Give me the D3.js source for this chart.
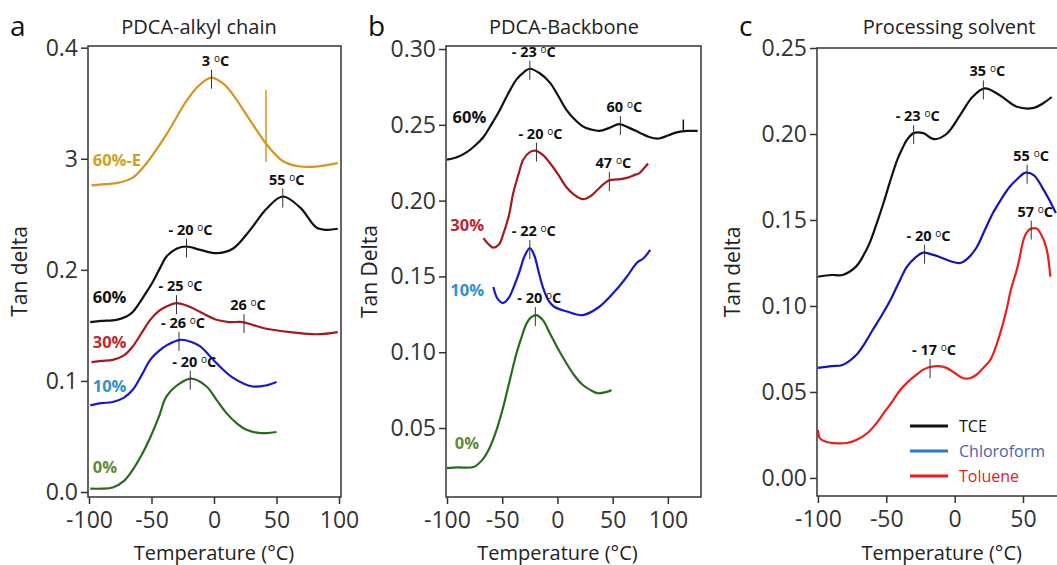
<!DOCTYPE html>
<html>
<head>
<meta charset="utf-8">
<script src="https://cdn.jsdelivr.net/npm/d3@7"></script>
<style>
  body { margin: 0; background: #fff; }
  svg { display: block; }
</style>
</head>
<body>
<div id="chart"></div>
<script>
// ---------------------------//
//       DATA                 //
// ---------------------------//

// panel a : PDCA-alkyl chain
var aTemp60E = [-98, -90, -78, -65, -54, -38, -22, -12, -2, 8, 15, 31, 42, 55, 69, 82, 99];
var aVal60E  = [0.276, 0.277, 0.278, 0.283, 0.296, 0.322, 0.352, 0.366, 0.373, 0.367, 0.358, 0.331, 0.313, 0.298, 0.293, 0.293, 0.296];
var aTemp60 = [-99, -90, -78, -70, -65, -54, -49, -43, -38, -30, -22, -11, 2, 15, 29, 42, 55, 69, 82, 90, 99];
var aVal60  = [0.153, 0.154, 0.155, 0.158, 0.162, 0.180, 0.189, 0.202, 0.212, 0.219, 0.221, 0.218, 0.215, 0.219, 0.236, 0.255, 0.266, 0.256, 0.238, 0.236, 0.237];
var aTemp30 = [-98, -90, -81, -72, -65, -58, -51, -44, -38, -30, -20, -11, 2, 12, 23, 32, 42, 61, 82, 99];
var aVal30  = [0.117, 0.118, 0.119, 0.123, 0.131, 0.143, 0.155, 0.163, 0.167, 0.170, 0.167, 0.162, 0.155, 0.153, 0.153, 0.150, 0.147, 0.144, 0.142, 0.144];
var aTemp10 = [-99, -90, -81, -72, -65, -58, -51, -44, -38, -27, -18, -11, 2, 15, 31, 42, 50];
var aVal10  = [0.078, 0.080, 0.081, 0.085, 0.092, 0.105, 0.119, 0.127, 0.132, 0.137, 0.135, 0.131, 0.116, 0.103, 0.095, 0.096, 0.099];
var aTemp0 = [-99, -90, -81, -72, -65, -58, -51, -44, -38, -27, -18, -6, 2, 10, 18, 26, 37, 50];
var aVal0  = [0.003, 0.003, 0.004, 0.010, 0.020, 0.033, 0.049, 0.068, 0.086, 0.098, 0.102, 0.095, 0.083, 0.071, 0.062, 0.056, 0.053, 0.054];

// panel b : PDCA-Backbone
var bTemp60 = [-100, -90, -82, -75, -67, -60, -52, -45, -37, -30, -25, -16, -7, 0, 8, 15, 23, 30, 38, 47, 56, 65, 74, 83, 92, 100, 108, 118, 127];
var bVal60  = [0.227, 0.229, 0.232, 0.236, 0.242, 0.250, 0.260, 0.270, 0.280, 0.285, 0.287, 0.284, 0.278, 0.270, 0.260, 0.254, 0.249, 0.247, 0.246, 0.248, 0.2505, 0.248, 0.245, 0.242, 0.241, 0.243, 0.245, 0.246, 0.246];
var bTemp30 = [-67, -62, -58, -53, -49, -44, -40, -35, -31, -25, -20, -13, -7, 0, 8, 15, 23, 30, 36, 42, 47, 55, 63, 70, 74, 78, 82];
var bVal30  = [0.1753, 0.171, 0.169, 0.171, 0.178, 0.190, 0.205, 0.218, 0.227, 0.232, 0.233, 0.230, 0.225, 0.218, 0.209, 0.204, 0.201, 0.203, 0.207, 0.211, 0.2135, 0.214, 0.215, 0.217, 0.218, 0.221, 0.2245];
var bTemp10 = [-58, -54, -49, -44, -38, -34, -30, -25, -21, -17, -13, -8, -3, 8, 23, 38, 53, 63, 72, 78, 84];
var bVal10  = [0.143, 0.135, 0.1325, 0.136, 0.146, 0.154, 0.163, 0.1687, 0.164, 0.153, 0.1425, 0.134, 0.130, 0.127, 0.1245, 0.130, 0.141, 0.150, 0.159, 0.162, 0.1675];
var bTemp0 = [-100, -90, -76, -68, -61, -55, -49, -43, -37, -32, -28, -24, -19, -13, -7, 0, 8, 15, 23, 30, 36, 43, 49];
var bVal0  = [0.0236, 0.024, 0.0243, 0.029, 0.0375, 0.049, 0.064, 0.082, 0.0995, 0.111, 0.119, 0.123, 0.1245, 0.121, 0.1127, 0.103, 0.0929, 0.085, 0.0784, 0.075, 0.073, 0.0735, 0.075];

// panel c : Processing solvent
var cTempTCE = [-100, -90, -82, -72, -67, -62, -57, -52, -47, -42, -38, -35, -30, -23, -15, -6, 4, 13, 22, 33, 45, 57, 65, 71];
var cValTCE  = [0.117, 0.118, 0.118, 0.123, 0.129, 0.137, 0.148, 0.160, 0.173, 0.185, 0.192, 0.1965, 0.2005, 0.2005, 0.197, 0.200, 0.211, 0.2215, 0.2265, 0.2225, 0.216, 0.215, 0.218, 0.2215];
var cTempChl = [-100, -90, -82, -72, -66, -60, -53, -47, -40, -35, -29, -23, -17, -11, -3, 4, 10, 16, 22, 28, 34, 40, 46, 52, 58, 64, 69, 74];
var cValChl  = [0.064, 0.065, 0.0657, 0.0715, 0.078, 0.086, 0.095, 0.1035, 0.115, 0.1227, 0.128, 0.131, 0.130, 0.1285, 0.126, 0.125, 0.128, 0.134, 0.144, 0.154, 0.162, 0.169, 0.174, 0.1775, 0.176, 0.169, 0.162, 0.154];
var cTempTol = [-100, -98.5, -94, -89, -79, -72, -64, -58, -52, -46, -40, -34, -28, -23, -18, -12, -6, 0, 6, 11, 16, 21, 26, 30, 34, 38, 41, 46, 51, 54, 56, 60, 63, 67, 70];
var cValTol  = [0.028, 0.023, 0.021, 0.0203, 0.0203, 0.022, 0.026, 0.031, 0.0376, 0.044, 0.051, 0.056, 0.060, 0.063, 0.0645, 0.065, 0.064, 0.061, 0.058, 0.058, 0.060, 0.064, 0.0686, 0.076, 0.086, 0.098, 0.109, 0.1227, 0.140, 0.144, 0.145, 0.145, 0.142, 0.134, 0.117];

// tick labels
var xTicksAB = [-100, -50, 0, 50, 100];
var xTicksC = [-100, -50, 0, 50];
var yTicksA = [0, 0.1, 0.2, 0.3, 0.4];
var yLabelsA = ["0.0", "0.1", "0.2", "3", "0.4"];   // the "3" is as printed in the figure
var yTicksB = [0.05, 0.10, 0.15, 0.20, 0.25, 0.30];
var yTicksC = [0, 0.05, 0.10, 0.15, 0.20, 0.25];

// peak markers : [temperature, tan delta, label]
var aPeaks = [[-2, 0.373, "3"], [55, 0.266, "55"], [-22, 0.221, "- 20"], [-30, 0.170, "- 25"], [24, 0.153, "26"], [-28, 0.137, "- 26"], [-19, 0.102, "- 20"]];
var bPeaks = [[-25, 0.287, "- 23"], [57, 0.2505, "60"], [-19, 0.233, "- 20"], [47, 0.2135, "47"], [-25, 0.1687, "- 22"], [-20, 0.1245, "- 20"]];
var cPeaks = [[-30, 0.2005, "- 23"], [21, 0.2265, "35"], [-22, 0.131, "- 20"], [53, 0.1775, "55"], [-18, 0.0645, "- 17"], [56, 0.145, "57"]];

var fontFamily = "'Open Sans', 'Liberation Sans', sans-serif";
var axisColor = "#333";

function zipSeries(t, v) {
  return t.map(function(d, i) { return [d, v[i]]; });
}

var panels = [
  {
    letter: "a", title: "PDCA-alkyl chain", yTitle: "Tan delta",
    left: 88, right: 341, top: 46, bottom: 497,
    titleX: 199, yTitleX: 20,
    xDomain: [-100.8, 101.6], yDomain: [-0.0045, 0.4015],
    xTicks: xTicksAB, yTicks: yTicksA,
    yFormat: function(d, i) { return yLabelsA[i]; },
    series: [
      { data: zipSeries(aTemp60E, aVal60E), color: "#d8951c", label: "60%-E", labelColor: "#d0a020", lx: -97, ly: 0.299 },
      { data: zipSeries(aTemp60, aVal60), color: "#111", label: "60%", labelColor: "#111", lx: -97, ly: 0.175 },
      { data: zipSeries(aTemp30, aVal30), color: "#a31a1e", label: "30%", labelColor: "#c0262c", lx: -97, ly: 0.135 },
      { data: zipSeries(aTemp10, aVal10), color: "#1818cc", label: "10%", labelColor: "#2f8fd0", lx: -97, ly: 0.095 },
      { data: zipSeries(aTemp0, aVal0), color: "#2a6a1e", label: "0%", labelColor: "#5b8c3a", lx: -97, ly: 0.0225 }
    ],
    peaks: aPeaks,
    extraMarks: [{ t: 41.6, v0: 0.297, v1: 0.362, color: "#d8951c" }]
  },
  {
    letter: "b", title: "PDCA-Backbone", yTitle: "Tan Delta",
    left: 446, right: 701, top: 46, bottom: 497,
    titleX: 564, yTitleX: 370,
    xDomain: [-100.9, 130], yDomain: [0.0045, 0.302],
    xTicks: xTicksAB, yTicks: yTicksB,
    yFormat: d3.format(".2f"),
    series: [
      { data: zipSeries(bTemp60, bVal60), color: "#111", label: "60%", labelColor: "#111", lx: -95, ly: 0.255 },
      { data: zipSeries(bTemp30, bVal30), color: "#a31a1e", label: "30%", labelColor: "#c0262c", lx: -97, ly: 0.184 },
      { data: zipSeries(bTemp10, bVal10), color: "#1818cc", label: "10%", labelColor: "#2f8fd0", lx: -97, ly: 0.141 },
      { data: zipSeries(bTemp0, bVal0), color: "#2a6a1e", label: "0%", labelColor: "#5b8c3a", lx: -93, ly: 0.040 }
    ],
    peaks: bPeaks,
    extraMarks: [{ t: 114, v0: 0.2455, v1: 0.2535, color: "#111" }]
  },
  {
    letter: "c", title: "Processing solvent", yTitle: "Tan delta",
    left: 817, right: 1090, top: 48, bottom: 496,
    titleX: 949, yTitleX: 733,
    xDomain: [-100.7, 99], yDomain: [-0.0105, 0.25],
    xTicks: xTicksC, yTicks: yTicksC,
    yFormat: d3.format(".2f"),
    series: [
      { data: zipSeries(cTempTCE, cValTCE), color: "#111" },
      { data: zipSeries(cTempChl, cValChl), color: "#1414b8" },
      { data: zipSeries(cTempTol, cValTol), color: "#ee1c1c" }
    ],
    peaks: cPeaks,
    extraMarks: [],
    legend: [
      { name: "TCE", line: "#111", text: "#111" },
      { name: "Chloroform", line: "#2a7cc4", text: "#4a64a8" },
      { name: "Toluene", line: "#ee1c1c", text: "#e42222" }
    ]
  }
];

var svg = d3.select("#chart")
  .append("svg")
    .attr("width", 1057)
    .attr("height", 565);

panels.forEach(function(p) {
  var x = d3.scaleLinear().domain(p.xDomain).range([p.left, p.right]);
  var y = d3.scaleLinear().domain(p.yDomain).range([p.bottom, p.top]);
  var g = svg.append("g");

  // frame
  g.append("rect")
    .attr("x", p.left).attr("y", p.top)
    .attr("width", p.right - p.left).attr("height", p.bottom - p.top)
    .attr("fill", "none").attr("stroke", axisColor).attr("stroke-width", 1.5);

  // axes (plain hyphen for minus, as in the figure)
  var xAxis = g.append("g")
    .attr("transform", "translate(0," + p.bottom + ")")
    .call(d3.axisBottom(x).tickValues(p.xTicks).tickFormat(function(d) { return String(d); })
      .tickSize(7).tickSizeOuter(0).tickPadding(8));
  var yAxis = g.append("g")
    .attr("transform", "translate(" + p.left + ",0)")
    .call(d3.axisLeft(y).tickValues(p.yTicks).tickFormat(p.yFormat).tickSize(7).tickSizeOuter(0).tickPadding(3));
  [xAxis, yAxis].forEach(function(ax) {
    ax.select(".domain").remove();
    ax.selectAll("line").attr("stroke", axisColor).attr("stroke-width", 1.5);
    ax.selectAll("text")
      .attr("fill", axisColor)
      .style("font-family", fontFamily)
      .style("font-size", "23px");
  });

  // titles
  g.append("text")
    .attr("x", p.left - 78).attr("y", 36)
    .text(p.letter)
    .style("font-family", fontFamily).style("font-size", "28px").attr("fill", "#111");
  g.append("text")
    .attr("x", p.titleX).attr("y", 34)
    .attr("text-anchor", "middle")
    .text(p.title)
    .style("font-family", fontFamily).style("font-size", "20px").attr("fill", "#222");
  g.append("text")
    .attr("x", x(0) + (p.letter == "c" ? -13 : 0)).attr("y", 560)
    .attr("text-anchor", "middle")
    .text("Temperature (°C)")
    .style("font-family", fontFamily).style("font-size", "20px").attr("fill", "#222");
  g.append("text")
    .attr("transform", "translate(" + p.yTitleX + "," + ((p.top + p.bottom) / 2) + ") rotate(-90)")
    .attr("text-anchor", "middle")
    .attr("dy", "0.35em")
    .text(p.yTitle)
    .style("font-family", fontFamily).style("font-size", "21px").attr("fill", "#222");

  // curves
  var line = d3.line()
    .x(function(d) { return x(d[0]); })
    .y(function(d) { return y(d[1]); })
    .curve(d3.curveCatmullRom.alpha(0.5));
  g.selectAll(".curve")
    .data(p.series)
    .enter()
    .append("path")
      .attr("class", "curve")
      .attr("d", function(d) { return line(d.data); })
      .attr("fill", "none")
      .attr("stroke", function(d) { return d.color; })
      .attr("stroke-width", 2.2);

  // series labels
  g.selectAll(".slabel")
    .data(p.series.filter(function(d) { return d.label; }))
    .enter()
    .append("text")
      .attr("class", "slabel")
      .attr("x", function(d) { return x(d.lx); })
      .attr("y", function(d) { return y(d.ly); })
      .attr("dy", "0.35em")
      .text(function(d) { return d.label; })
      .attr("fill", function(d) { return d.labelColor; })
      .style("font-family", fontFamily).style("font-size", "16.5px").style("font-weight", 700);

  // peak ticks + labels
  g.selectAll(".ptick")
    .data(p.peaks)
    .enter()
    .append("line")
      .attr("x1", function(d) { return x(d[0]); })
      .attr("x2", function(d) { return x(d[0]); })
      .attr("y1", function(d) { return y(d[1]) - 8; })
      .attr("y2", function(d) { return y(d[1]) + 11; })
      .attr("stroke", "#333").attr("stroke-width", 1);
  var plab = g.selectAll(".plabel")
    .data(p.peaks)
    .enter()
    .append("text")
      .attr("x", function(d) { return x(d[0]) + 4; })
      .attr("y", function(d) { return y(d[1]) - 12; })
      .attr("text-anchor", "middle")
      .attr("fill", "#111")
      .style("font-family", fontFamily).style("font-size", "14.5px").style("font-weight", 700);
  plab.append("tspan").text(function(d) { return d[2] + " "; });
  plab.append("tspan").attr("dy", -4).style("font-size", "10px").style("font-weight", 400).text("o");
  plab.append("tspan").attr("dy", 4).text("C");

  // extra vertical marks
  g.selectAll(".xmark")
    .data(p.extraMarks)
    .enter()
    .append("line")
      .attr("x1", function(d) { return x(d.t); })
      .attr("x2", function(d) { return x(d.t); })
      .attr("y1", function(d) { return y(d.v0); })
      .attr("y2", function(d) { return y(d.v1); })
      .attr("stroke", function(d) { return d.color; }).attr("stroke-width", 1.5);

  // legend
  if (p.legend) {
    var lg = g.append("g").attr("transform", "translate(" + (p.left + 93) + "," + (p.top + 378) + ")");
    lg.selectAll("line")
      .data(p.legend)
      .enter()
      .append("line")
        .attr("x1", 0).attr("x2", 38)
        .attr("y1", function(d, i) { return i * 25; })
        .attr("y2", function(d, i) { return i * 25; })
        .attr("stroke", function(d) { return d.line; })
        .attr("stroke-width", 3);
    lg.selectAll("text")
      .data(p.legend)
      .enter()
      .append("text")
        .attr("x", 49)
        .attr("y", function(d, i) { return i * 25; })
        .attr("dy", "0.35em")
        .text(function(d) { return d.name; })
        .attr("fill", function(d) { return d.text; })
        .style("font-family", fontFamily).style("font-size", "16px");
  }
});
</script>
</body>
</html>
